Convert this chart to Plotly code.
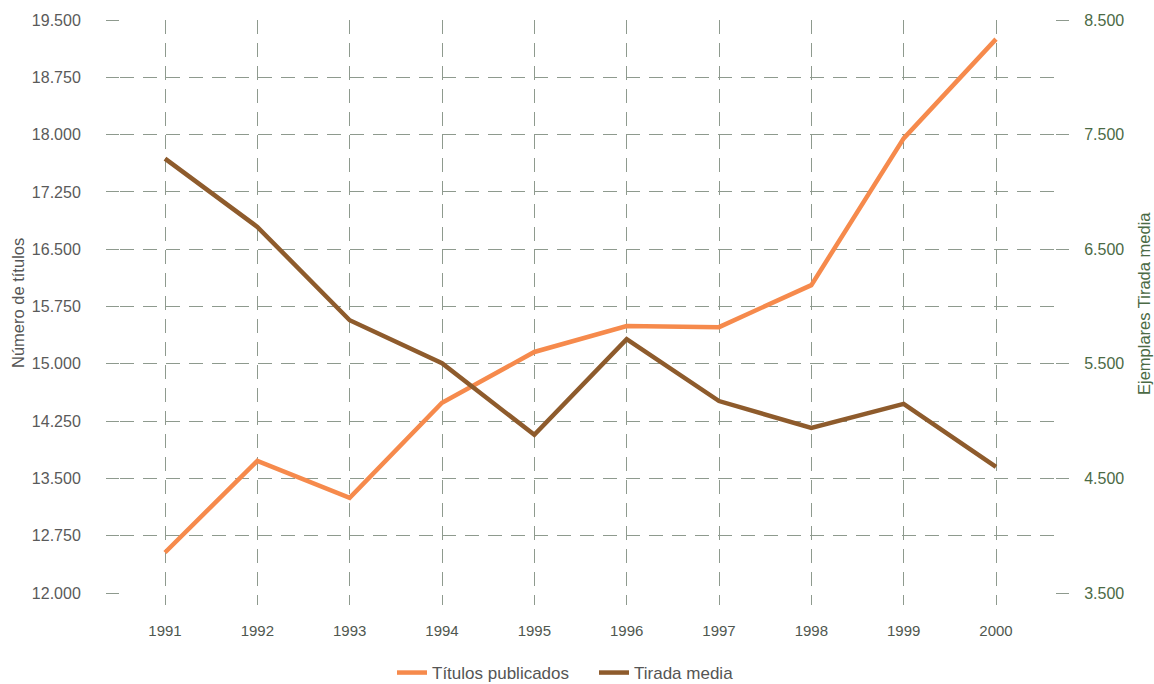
import plotly.graph_objects as go

years = [1991, 1992, 1993, 1994, 1995, 1996, 1997, 1998, 1999, 2000]
titulos = [12530, 13730, 13245, 14490, 15155, 15495, 15480, 16030, 17950, 19250]
tirada = [7290, 6695, 5880, 5505, 4880, 5715, 5175, 4940, 5150, 4600]

left_ticks = [12000, 12750, 13500, 14250, 15000, 15750, 16500, 17250, 18000, 18750, 19500]
left_labels = ["12.000", "12.750", "13.500", "14.250", "15.000", "15.750",
               "16.500", "17.250", "18.000", "18.750", "19.500"]
grid_vals = left_ticks[1:-1]
right_ticks = [3500, 4500, 5500, 6500, 7500, 8500]
right_labels = ["3.500", "4.500", "5.500", "6.500", "7.500", "8.500"]

FONT = "Liberation Sans, Arial, sans-serif"
GRID = "#8e9a8e"
ORANGE = "#F68A4C"
BROWN = "#8E5B2C"

fig = go.Figure()

# invisible trace to activate the grid-only axis
fig.add_trace(go.Scatter(x=[years[0]], y=[grid_vals[0]], yaxis="y3",
                         mode="markers", marker=dict(opacity=0),
                         showlegend=False, hoverinfo="skip"))

fig.add_trace(go.Scatter(x=years, y=titulos, name="Títulos publicados",
                         mode="lines", line=dict(color=ORANGE, width=4.5),
                         yaxis="y"))
fig.add_trace(go.Scatter(x=years, y=tirada, name="Tirada media",
                         mode="lines", line=dict(color=BROWN, width=4.5),
                         yaxis="y2"))

# plot area in pixels: x 120..1055, y 20..605
px_per_year = (996 - 165) / 9
x_lo = 1991 - (165 - 120) / px_per_year
x_hi = 2000 + (1055 - 996) / px_per_year
l_px = 7500 / 573
y_lo = 12000 - 12 * l_px
r_px = 5000 / 573
y2_lo = 3500 - 12 * r_px

fig.update_layout(
    width=1154, height=684,
    margin=dict(l=120, r=99, t=20, b=79, autoexpand=False),
    paper_bgcolor="white", plot_bgcolor="white",
    font=dict(family=FONT, size=15, color="#555555"),
    xaxis=dict(range=[x_lo, x_hi], tickvals=years, ticktext=[str(y) for y in years],
               showgrid=True, gridcolor=GRID, griddash="14px,9px", gridwidth=1,
               zeroline=False, showline=False, ticks="", automargin=False,
               ticklabelstandoff=15,
               tickfont=dict(family=FONT, size=15, color="#4f574f")),
    yaxis=dict(range=[y_lo, 19500], tickvals=left_ticks, ticktext=left_labels,
               showgrid=False, zeroline=False, showline=False, automargin=False,
               ticks="outside", ticklen=13, tickcolor=GRID, tickwidth=1,
               ticklabelstandoff=22,
               tickfont=dict(family=FONT, size=16, color="#5a5a5a")),
    yaxis2=dict(range=[y2_lo, 8500], tickvals=right_ticks, ticktext=right_labels,
                overlaying="y", side="right", automargin=False,
                showgrid=False, zeroline=False, showline=False,
                ticks="outside", ticklen=13, tickcolor=GRID, tickwidth=1,
                ticklabelstandoff=12,
                tickfont=dict(family=FONT, size=16, color="#4b6a45")),
    yaxis3=dict(range=[y_lo, 19500], tickvals=grid_vals, overlaying="y",
                showgrid=True, gridcolor=GRID, griddash="14px,9px", gridwidth=1,
                automargin=False,
                showticklabels=False, ticks="", zeroline=False, showline=False),
    legend=dict(orientation="h", x=(392 - 120) / 935, xanchor="left",
                y=-(673 - 605) / 585, yanchor="middle",
                font=dict(family=FONT, size=17, color="#555555"),
                itemwidth=30, entrywidth=157, bgcolor="rgba(0,0,0,0)"),
    showlegend=True,
    annotations=[
        dict(text="Número de títulos", textangle=-90, xref="paper", yref="paper",
             x=(18 - 120) / 935, y=(605 - 303) / 585, xanchor="center", yanchor="middle",
             showarrow=False, font=dict(family=FONT, size=16.5, color="#555555")),
        dict(text="Ejemplares Tirada media", textangle=-90, xref="paper", yref="paper",
             x=(1144 - 120) / 935, y=(605 - 304) / 585, xanchor="center", yanchor="middle",
             showarrow=False, font=dict(family=FONT, size=16.5, color="#4b6a45")),
    ],
)

fig.write_html("out.html", post_script="document.body.style.margin='0';",
               config={"displayModeBar": False})
